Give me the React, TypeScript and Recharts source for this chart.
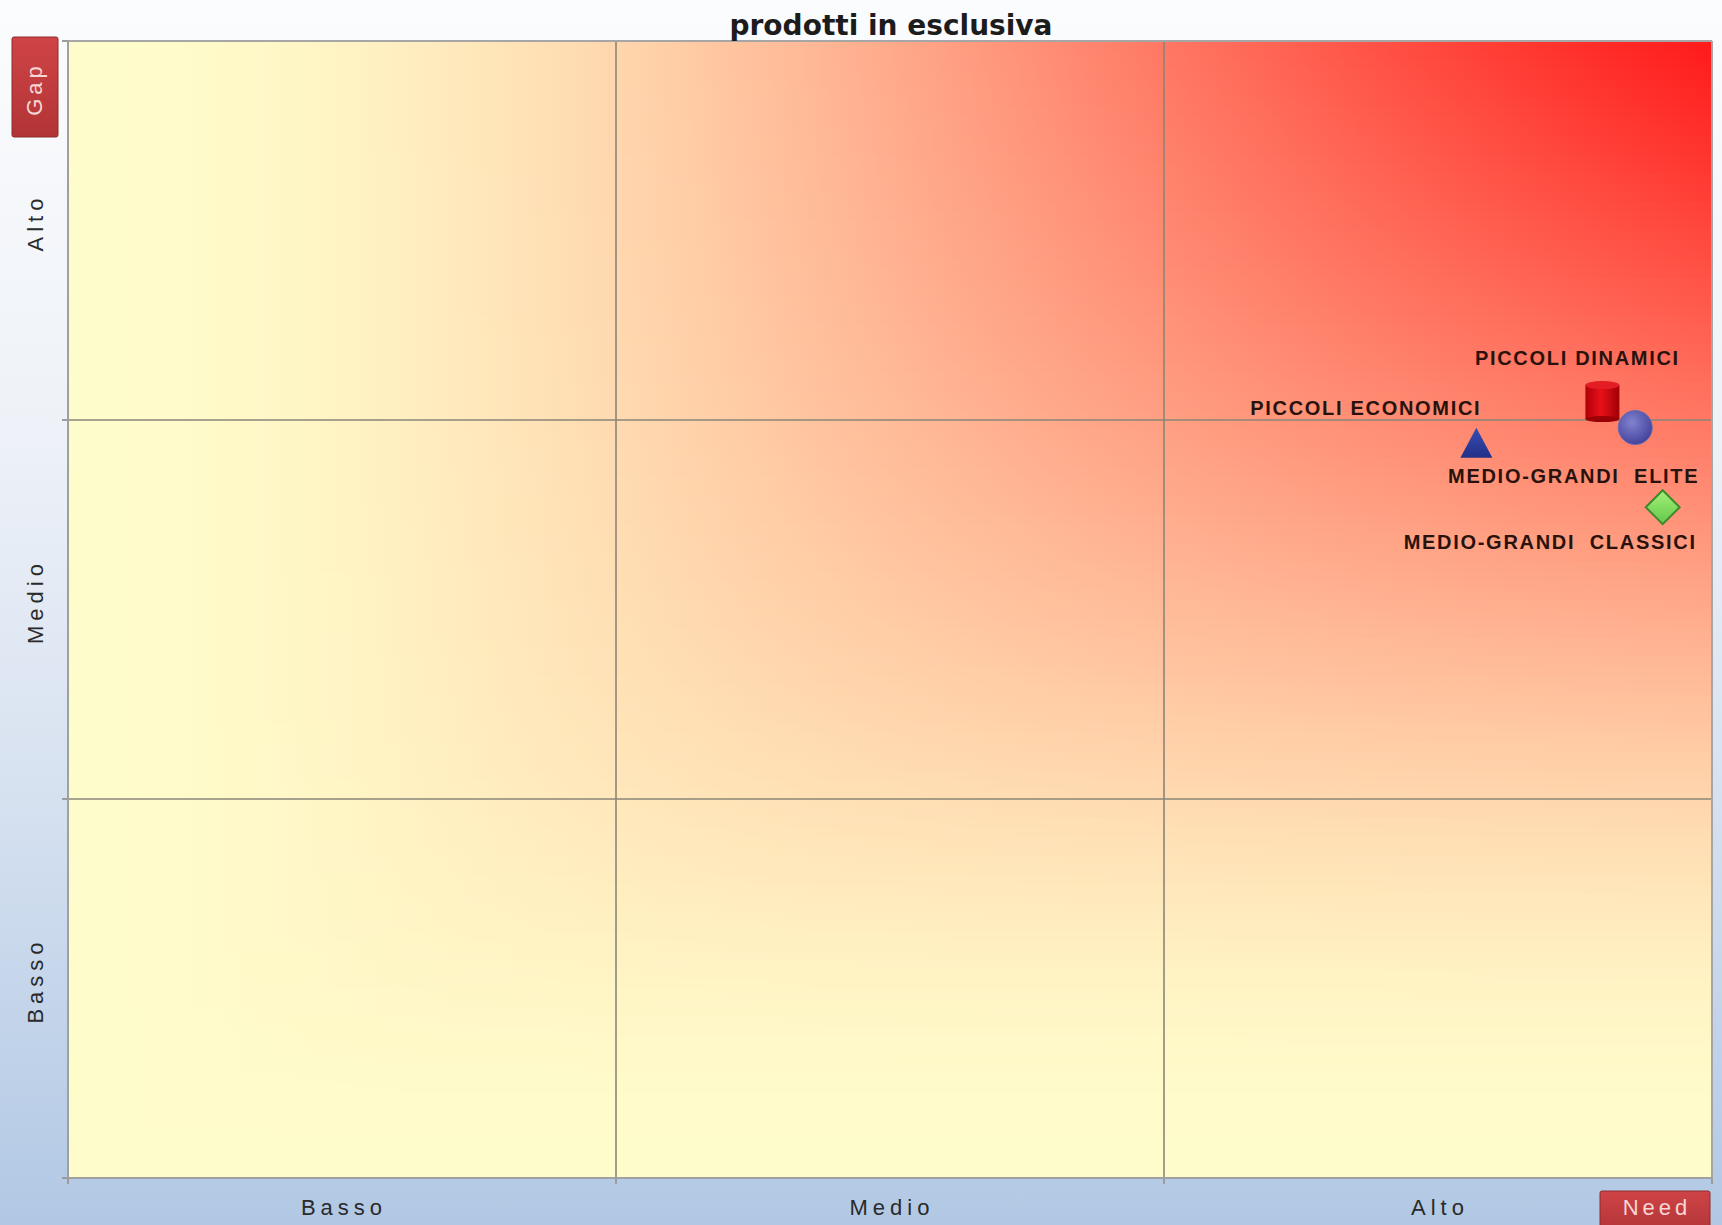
import React from "react";
import {
  ScatterChart,
  Scatter,
  XAxis,
  YAxis,
  ReferenceArea,
  ReferenceLine,
} from "recharts";

// segments positioned on the need (x) / gap (y) grid, 0..3 on both axes
const segmentNames = [
  "PICCOLI DINAMICI",
  "PICCOLI ECONOMICI",
  "MEDIO-GRANDI  ELITE",
  "MEDIO-GRANDI  CLASSICI",
];
const needScores = [2.8, 2.57, 2.86, 2.91];
const gapScores = [2.05, 1.94, 1.98, 1.77];
const levelLabels = ["Basso", "Medio", "Alto"];
const axisTicks = [0, 0.5, 1, 1.5, 2, 2.5, 3];

const segments = segmentNames.map((name, i) => ({
  name,
  need: needScores[i],
  gap: gapScores[i],
}));

const markerStyle: Record<
  string,
  { kind: string; anchor: "start" | "middle" | "end"; dx: number; dy: number }
> = {
  "PICCOLI DINAMICI": { kind: "cylinder", anchor: "middle", dx: -25, dy: -36 },
  "PICCOLI ECONOMICI": { kind: "triangle", anchor: "end", dx: 5, dy: -28 },
  "MEDIO-GRANDI  ELITE": { kind: "circle", anchor: "end", dx: 64, dy: 55 },
  "MEDIO-GRANDI  CLASSICI": { kind: "diamond", anchor: "end", dx: 34, dy: 42 },
};

const sans = "'Liberation Sans', Arial, sans-serif";
const W = 1722;
const H = 1225;

// heat colour of the plot: pale yellow where need or gap is low, red where both are high
const BASE = [255, 252, 203];
const HOT = [255, 26, 26];
function heat(u: number, v: number) {
  let a = 0;
  if (u > 0 && v > 0) {
    const soft = Math.pow(Math.pow(u, -2) + Math.pow(v, -2), -0.5) / Math.SQRT1_2;
    a = Math.pow(soft, 2.2);
  }
  const c = BASE.map((b, i) => Math.round(b + (HOT[i] - b) * a));
  return `rgb(${c[0]},${c[1]},${c[2]})`;
}

const STRIPS = 120;
const STOPS = 24;

function PlotBackground(props: any) {
  const { x, y, width, height } = props;
  const h = height / STRIPS;
  const strips = [];
  for (let r = 0; r < STRIPS; r++) {
    const v = 1 - (r + 0.5) / STRIPS;
    strips.push(
      <linearGradient key={`g${r}`} id={`heatRow${r}`} x1="0" y1="0" x2="1" y2="0">
        {Array.from({ length: STOPS + 1 }, (_, k) => (
          <stop key={k} offset={k / STOPS} stopColor={heat(k / STOPS, v)} />
        ))}
      </linearGradient>
    );
  }
  return (
    <g>
      <defs>
        {strips}
        <linearGradient id="mkRed" x1="0" y1="0" x2="1" y2="0">
          <stop offset="0" stopColor="#b00008" />
          <stop offset="0.45" stopColor="#e8101a" />
          <stop offset="1" stopColor="#a00006" />
        </linearGradient>
        <radialGradient id="mkCircle" cx="0.4" cy="0.35" r="0.65">
          <stop offset="0" stopColor="#8282d0" />
          <stop offset="1" stopColor="#44449c" />
        </radialGradient>
        <linearGradient id="mkTriangle" x1="0" y1="0" x2="0" y2="1">
          <stop offset="0" stopColor="#3a4cb0" />
          <stop offset="1" stopColor="#223088" />
        </linearGradient>
        <linearGradient id="mkDiamond" x1="0" y1="0" x2="0" y2="1">
          <stop offset="0" stopColor="#a6f07a" />
          <stop offset="1" stopColor="#62c84a" />
        </linearGradient>
      </defs>
      <rect x={x} y={y} width={width} height={height} fill="#fffccb" />
      {Array.from({ length: STRIPS }, (_, r) => (
        <rect
          key={r}
          x={x}
          y={y + r * h}
          width={width}
          height={h + (r < STRIPS - 1 ? 1 : 0)}
          fill={`url(#heatRow${r})`}
        />
      ))}
    </g>
  );
}

function NeedTick({ x, y, payload }: any) {
  const v = payload.value;
  if (Number.isInteger(v)) {
    return <line x1={x} x2={x} y1={y} y2={y + 6} stroke="#9c9c9c" strokeWidth={2} />;
  }
  return (
    <text
      x={x + 2}
      y={y + 37}
      textAnchor="middle"
      fill="#2a2a2a"
      fontSize={22}
      fontFamily={sans}
      style={{ letterSpacing: 5 }}
    >
      {levelLabels[Math.floor(v)]}
    </text>
  );
}

function GapTick({ x, y, payload }: any) {
  const v = payload.value;
  if (Number.isInteger(v)) {
    return <line x1={x - 6} x2={x} y1={y} y2={y} stroke="#9c9c9c" strokeWidth={2} />;
  }
  return (
    <text
      x={0}
      y={0}
      transform={`translate(${x - 25},${y - 8}) rotate(-90)`}
      textAnchor="middle"
      fill="#2a2a2a"
      fontSize={22}
      fontFamily={sans}
      style={{ letterSpacing: 5 }}
    >
      {levelLabels[Math.floor(v)]}
    </text>
  );
}

function SegmentMarker(props: any) {
  const { cx, cy, payload } = props;
  const s = markerStyle[payload.name];
  let mark: React.ReactNode = null;
  if (s.kind === "cylinder") {
    mark = (
      <g>
        <rect x={cx - 17} y={cy - 16} width={34} height={34} fill="url(#mkRed)" />
        <ellipse cx={cx} cy={cy - 16} rx={17} ry={4} fill="#e41c24" />
        <ellipse cx={cx} cy={cy + 18} rx={17} ry={3} fill="#9a0006" />
      </g>
    );
  } else if (s.kind === "circle") {
    mark = <circle cx={cx} cy={cy} r={17} fill="url(#mkCircle)" stroke="#6a6ab0" strokeWidth={1} />;
  } else if (s.kind === "triangle") {
    mark = (
      <polygon
        points={`${cx},${cy - 15} ${cx + 16},${cy + 15} ${cx - 16},${cy + 15}`}
        fill="url(#mkTriangle)"
      />
    );
  } else {
    mark = (
      <polygon
        points={`${cx},${cy - 17} ${cx + 17},${cy} ${cx},${cy + 17} ${cx - 17},${cy}`}
        fill="url(#mkDiamond)"
        stroke="#3c8a2c"
        strokeWidth={2}
      />
    );
  }
  return (
    <g>
      {mark}
      <text
        x={cx + s.dx}
        y={cy + s.dy}
        textAnchor={s.anchor}
        fill="#2a120c"
        fontSize={20}
        fontWeight="bold"
        fontFamily={sans}
        style={{ letterSpacing: 1.7, whiteSpace: "pre" }}
      >
        {payload.name}
      </text>
    </g>
  );
}

export default function App() {
  return (
    <div
      style={{
        position: "absolute",
        left: 0,
        top: 0,
        width: W,
        height: H,
        overflow: "hidden",
        background:
          "linear-gradient(to bottom, #fbfcfd 0%, #eef2f8 35%, #d6e1f0 65%, #b1c8e4 100%)",
      }}
    >
      <ScatterChart
        width={W}
        height={H}
        margin={{ top: 41, right: 10, bottom: 7, left: 8 }}
      >
        <ReferenceArea x1={0} x2={3} y1={0} y2={3} shape={PlotBackground} />
        <ReferenceLine x={1} stroke="#8a8678" strokeWidth={1.6} />
        <ReferenceLine x={2} stroke="#8a8678" strokeWidth={1.6} />
        <ReferenceLine y={1} stroke="#8a8678" strokeWidth={1.6} />
        <ReferenceLine y={2} stroke="#8a8678" strokeWidth={1.6} />
        <ReferenceLine x={3} stroke="#a6a6a6" strokeWidth={2} />
        <ReferenceLine y={3} stroke="#a6a6a6" strokeWidth={2} />
        <XAxis
          type="number"
          dataKey="need"
          domain={[0, 3]}
          ticks={axisTicks}
          interval={0}
          height={40}
          tickSize={0}
          tickMargin={0}
          tickLine={false}
          axisLine={{ stroke: "#a0a0a0", strokeWidth: 2 }}
          tick={NeedTick}
        />
        <YAxis
          type="number"
          dataKey="gap"
          domain={[0, 3]}
          ticks={axisTicks}
          interval={0}
          width={60}
          tickSize={0}
          tickMargin={0}
          tickLine={false}
          axisLine={{ stroke: "#a0a0a0", strokeWidth: 2 }}
          tick={GapTick}
        />
        <Scatter data={segments} shape={SegmentMarker} isAnimationActive={false} />
      </ScatterChart>
      <svg
        width={W}
        height={H}
        style={{ position: "absolute", left: 0, top: 0, pointerEvents: "none" }}
      >
        <defs>
          <linearGradient id="tagFill" x1="0" y1="0" x2="0" y2="1">
            <stop offset="0" stopColor="#cf4446" />
            <stop offset="1" stopColor="#b23436" />
          </linearGradient>
        </defs>
        <text
          x={891}
          y={35}
          textAnchor="middle"
          fill="#1c1c1c"
          fontSize={28}
          fontWeight="bold"
          fontFamily="'DejaVu Sans', Verdana, sans-serif"
        >
          prodotti in esclusiva
        </text>
        <rect x={12} y={37} width={46} height={100} rx={2} fill="url(#tagFill)" stroke="#8e2c2c" />
        <text
          x={0}
          y={0}
          transform="translate(42,89) rotate(-90)"
          textAnchor="middle"
          fill="#f6d6d6"
          fontSize={22}
          fontFamily={sans}
          style={{ letterSpacing: 4 }}
        >
          Gap
        </text>
        <rect x={1600} y={1191} width={110} height={42} rx={2} fill="url(#tagFill)" stroke="#8e2c2c" />
        <text
          x={1657}
          y={1215}
          textAnchor="middle"
          fill="#f6d6d6"
          fontSize={22}
          fontFamily={sans}
          style={{ letterSpacing: 4 }}
        >
          Need
        </text>
      </svg>
    </div>
  );
}
